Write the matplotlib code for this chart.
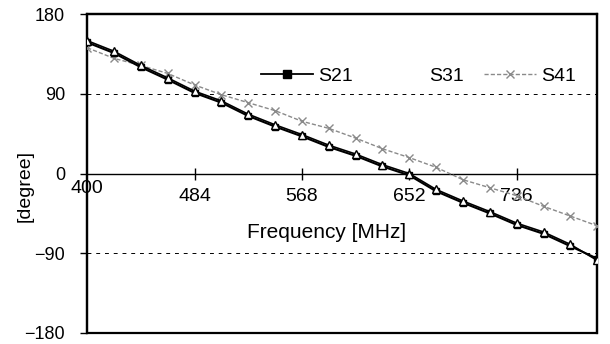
import numpy as np
import matplotlib.pyplot as plt
from matplotlib.lines import Line2D

plt.rcParams['font.family'] = ['Liberation Sans', 'DejaVu Sans']

# frequency points, 21 MHz step
freq = [400, 421, 442, 463, 484, 505, 526, 547, 568, 589,
        610, 631, 652, 673, 694, 715, 736, 757, 778, 799]
s21 = [148, 136, 120, 106, 91, 80, 65, 53, 42, 30,
       20, 8, -2, -20, -33, -45, -58, -68, -82, -96]
s31 = [150, 138, 122, 108, 93, 82, 67, 55, 44, 32,
       22, 10, 0, -18, -31, -43, -56, -66, -80, -98]
s41 = [142, 130, 122, 113, 100, 89, 80, 71, 59, 51,
       40, 28, 18, 7, -7, -16, -25, -37, -48, -59]
xticks = [484, 568, 652, 736]
xtick_labels = ['484', '568', '652', '736']
yticks = [-180, -90, 0, 90, 180]
ytick_labels = ['\u2212180', '\u221290', '0', '90', '180']

fig = plt.figure(figsize=(6.1, 3.44), dpi=100)
ax = fig.add_axes([0.143, 0.032, 0.836, 0.927])

ax.plot(freq, s41, color='#8a8a8a', lw=1.0, ls=(0, (3, 1.5)),
        marker='x', ms=6, mew=1.0, zorder=3)
ax.plot(freq, s21, color='black', lw=1.5, marker='s', ms=4,
        mfc='black', mec='black', zorder=4)
ax.plot(freq, s31, color='black', lw=1.2, marker='^', ms=6,
        mfc='white', mec='black', mew=1.0, zorder=5)

ax.set_xlim(400, 799)
ax.set_ylim(-180, 180)

# x axis crosses at 0, frame drawn by the axes patch
ax.spines['bottom'].set_position(('data', 0))
ax.spines['bottom'].set_linewidth(1.0)
for s in ['left', 'top', 'right']:
    ax.spines[s].set_linewidth(1.6)
ax.patch.set_edgecolor('black')
ax.patch.set_linewidth(1.6)

ax.set_xticks(xticks)
ax.set_xticklabels(xtick_labels)
ax.tick_params(axis='x', direction='inout', length=9, width=1, pad=6,
               labelsize=14)
ax.set_yticks(yticks)
ax.set_yticklabels(ytick_labels)
ax.tick_params(axis='y', direction='out', length=5, width=1, pad=11,
               labelsize=13)

# the 400 label sits at the y axis
ax.text(400, -7, '400', ha='center', va='top', fontsize=14)

ax.yaxis.grid(True, color='black', ls=(0, (4, 5)), lw=0.7)
ax.set_axisbelow(True)

ax.set_xlabel('Frequency [MHz]', fontsize=15)
ax.xaxis.set_label_coords(0.47, 0.345)
ax.set_ylabel('[degree]', fontsize=14)
ax.yaxis.set_label_coords(-0.106, 0.46)

handles = [Line2D([], [], color='black', lw=1.3, marker='s', ms=6),
           Line2D([], [], color='none'),
           Line2D([], [], color='#8a8a8a', lw=1.0, ls=(0, (3, 1.5)),
                  marker='x', ms=6)]
ax.legend(handles, ['S21', 'S31', 'S41'], ncol=3, frameon=False,
          fontsize=14, loc='center left', bbox_to_anchor=(0.34, 0.805),
          handlelength=2.7, columnspacing=1.0, handletextpad=0.25,
          borderpad=0, borderaxespad=0)

fig.savefig('out.png', dpi=100)
